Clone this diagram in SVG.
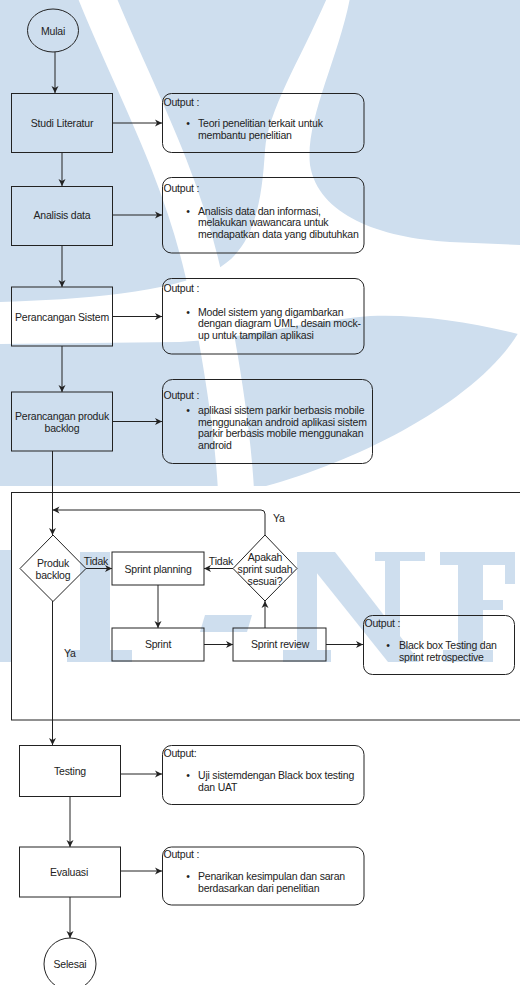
<svg xmlns="http://www.w3.org/2000/svg" width="520" height="985" viewBox="0 0 520 985">
<style>
.s{fill:none;stroke:#222;stroke-width:1}
.t{font-family:"Liberation Sans",Arial,Helvetica,sans-serif;font-size:10.5px;letter-spacing:-0.2px;fill:#222}
.m{text-anchor:middle}
.e{fill:none;stroke:#222;stroke-width:1;marker-end:url(#a)}
.wb{fill:#cedeee}
.ww{fill:#fff}
</style>
<defs>
<marker id="a" markerWidth="8" markerHeight="8" refX="7" refY="4" orient="auto" markerUnits="userSpaceOnUse"><path d="M0,0.5 L7,4 L0,7.5 L2,4 Z" fill="#222"/></marker>
</defs>
<rect width="520" height="985" fill="#fff"/>
<g id="watermark">
<path class="wb" d="M0,0 H520 V330 C480,400 360,460 266,486 H0 Z"/>
<path d="M94,-10 C130,80 175,160 200,260 C215,320 232,420 236,490" stroke="#fff" stroke-width="36" fill="none"/>
<path class="ww" d="M327,-2 L350,-2 C338,60 305,120 310,165 C318,215 380,238 450,242 L522,245 L522,335 C470,322 420,314 370,316 C300,322 250,338 180,342 L-2,344 L-2,302 C80,300 170,292 215,270 C255,250 262,200 265,150 C268,110 300,60 327,-2 Z"/>
<rect class="wb" x="0" y="550" width="12" height="112"/>
<rect class="wb" x="80" y="552" width="30" height="110"/>
<rect class="wb" x="67" y="650" width="65" height="12"/>
<polygon class="wb" points="205,615 252,615 247,632 200,632"/>
<rect class="wb" x="297" y="552" width="20" height="110"/>
<rect class="wb" x="283" y="650" width="48" height="12"/>
<polygon class="wb" points="300,552 335,552 420,662 388,662"/>
<rect class="wb" x="385" y="552" width="15" height="100"/>
<rect class="wb" x="375" y="552" width="50" height="9"/>
<rect class="wb" x="458" y="552" width="25" height="110"/>
<rect class="wb" x="440" y="552" width="75" height="13"/>
<rect class="wb" x="505" y="552" width="10" height="32"/>
<rect class="wb" x="483" y="600" width="20" height="10"/>
<rect class="wb" x="443" y="650" width="50" height="12"/>
</g>
<g id="container"><rect class="s" x="11.5" y="492.5" width="530" height="227.5"/></g>
<g id="edges">
<path class="e" d="M55,52 V93"/>
<path class="e" d="M112,123 H162"/>
<path class="e" d="M62,152 V186"/>
<path class="e" d="M112,215 H162"/>
<path class="e" d="M62,245 V287"/>
<path class="e" d="M112,316.5 H162"/>
<path class="e" d="M62,346 V392"/>
<path class="e" d="M112,421.5 H162"/>
<path class="e" d="M52.5,451 V535"/>
<path class="e" d="M265,535 V514 Q265,510 261,510 H52.5"/>
<path class="e" d="M86,568.5 H112"/>
<path class="e" d="M158,585 V628"/>
<path class="e" d="M204,644.5 H233"/>
<path class="e" d="M265,628 V601"/>
<path class="e" d="M233,568.5 H204"/>
<path class="e" d="M326,644.5 H363"/>
<path class="e" d="M52.5,601 V745"/>
<path class="e" d="M120,774 H162"/>
<path class="e" d="M70,796 V847"/>
<path class="e" d="M120,871 H162"/>
<path class="e" d="M70,897 V938"/>
<text class="t m" x="96" y="565">Tidak</text>
<text class="t m" x="221" y="565">Tidak</text>
<text class="t" x="273" y="522">Ya</text>
<text class="t" x="64" y="657">Ya</text>
</g>
<g id="mulai"><ellipse class="s" cx="53" cy="30.5" rx="25.5" ry="21.5"/><text class="t m" x="53" y="34.5">Mulai</text></g>
<g id="studi"><rect class="s" x="11.5" y="93.5" width="101" height="59"/><text class="t m" x="62" y="127">Studi Literatur</text></g>
<g id="out1"><rect class="s" x="162.5" y="93.5" width="201.5" height="59" rx="9"/>
<text class="t" x="163.5" y="105.5">Output :</text><text class="t m" x="188" y="127">•</text>
<text class="t" x="198" y="127">Teori penelitian terkait untuk</text><text class="t" x="198" y="139">membantu penelitian</text></g>
<g id="analisis"><rect class="s" x="11.5" y="186.5" width="101" height="59"/><text class="t m" x="62" y="219">Analisis data</text></g>
<g id="out2"><rect class="s" x="162.5" y="177.5" width="201.5" height="75.5" rx="9"/>
<text class="t" x="163.5" y="192">Output :</text><text class="t m" x="188" y="214.5">•</text>
<text class="t" x="198" y="214.5">Analisis data dan informasi,</text><text class="t" x="198" y="226">melakukan wawancara untuk</text><text class="t" x="198" y="237.5">mendapatkan data yang dibutuhkan</text></g>
<g id="sistem"><rect class="s" x="11.5" y="287" width="101" height="59"/><text class="t m" x="62" y="320.5">Perancangan Sistem</text></g>
<g id="out3"><rect class="s" x="162.5" y="278.5" width="201.5" height="75.5" rx="9"/>
<text class="t" x="163.5" y="292">Output :</text><text class="t m" x="188" y="315.5">•</text>
<text class="t" x="198" y="315.5">Model sistem yang digambarkan</text><text class="t" x="198" y="327">dengan diagram UML, desain mock-</text><text class="t" x="198" y="338.5">up untuk tampilan aplikasi</text></g>
<g id="backlogbox"><rect class="s" x="11.5" y="392" width="101" height="59"/><text class="t m" x="62" y="420">Perancangan produk</text><text class="t m" x="62" y="431.5">backlog</text></g>
<g id="out4"><rect class="s" x="162.5" y="379.5" width="210" height="84" rx="10"/>
<text class="t" x="163.5" y="399">Output :</text><text class="t m" x="188" y="414">•</text>
<text class="t" x="198" y="414">aplikasi sistem parkir berbasis mobile</text><text class="t" x="198" y="425.7">menggunakan android aplikasi sistem</text><text class="t" x="198" y="437.3">parkir berbasis mobile menggunakan</text><text class="t" x="198" y="449">android</text></g>
<g id="produk"><polygon class="s" points="53,535 86,568.5 53,601.5 20,568.5"/><text class="t m" x="53" y="566.5">Produk</text><text class="t m" x="53" y="578.5">backlog</text></g>
<g id="planning"><rect class="s" x="112" y="552" width="92" height="33"/><text class="t m" x="158" y="572.5">Sprint planning</text></g>
<g id="sprint"><rect class="s" x="112" y="628" width="92" height="33"/><text class="t m" x="158" y="648">Sprint</text></g>
<g id="review"><rect class="s" x="233" y="628" width="93" height="33"/><text class="t m" x="280" y="648">Sprint review</text></g>
<g id="apakah"><polygon class="s" points="265,535 297,568.5 265,601 233,568.5"/><text class="t m" x="265" y="561">Apakah</text><text class="t m" x="265" y="572.7">sprint sudah</text><text class="t m" x="265" y="584.5">sesuai?</text></g>
<g id="out5"><rect class="s" x="363.5" y="615.5" width="151" height="59" rx="9"/>
<text class="t" x="364.5" y="627">Output :</text><text class="t m" x="388" y="649">•</text>
<text class="t" x="399" y="649">Black box Testing dan</text><text class="t" x="399" y="660.7">sprint retrospective</text></g>
<g id="testing"><rect class="s" x="19.5" y="745.5" width="101" height="51"/><text class="t m" x="70" y="775">Testing</text></g>
<g id="out6"><rect class="s" x="162.5" y="745.5" width="201.5" height="59" rx="9"/>
<text class="t" x="163.5" y="757">Output:</text><text class="t m" x="188" y="779">•</text>
<text class="t" x="198" y="779">Uji sistemdengan Black box testing</text><text class="t" x="198" y="790.7">dan UAT</text></g>
<g id="evaluasi"><rect class="s" x="19.5" y="847" width="101" height="50"/><text class="t m" x="69" y="875.5">Evaluasi</text></g>
<g id="out7"><rect class="s" x="162.5" y="847" width="201.5" height="58" rx="9"/>
<text class="t" x="163.5" y="858">Output :</text><text class="t m" x="188" y="880">•</text>
<text class="t" x="198" y="880">Penarikan kesimpulan dan saran</text><text class="t" x="198" y="891.7">berdasarkan dari penelitian</text></g>
<g id="selesai"><circle class="s" cx="70" cy="964" r="26"/><text class="t m" x="70" y="967.5">Selesai</text></g>
</svg>
